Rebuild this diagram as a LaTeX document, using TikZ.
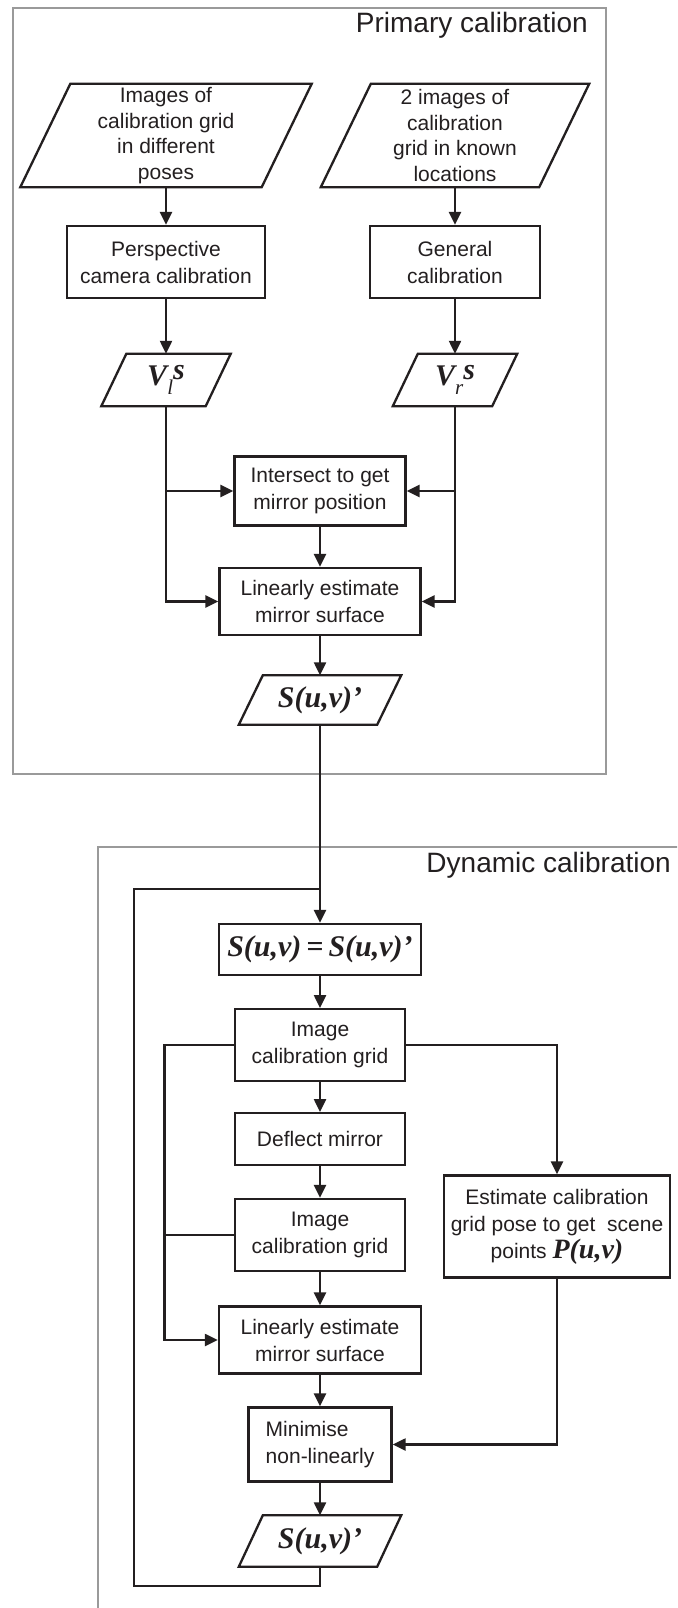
\documentclass[tikz,border=0pt]{standalone}
\usepackage{fontspec}
\setmainfont{Liberation Sans}
\newfontfamily\serifbi{Liberation Serif}
\usetikzlibrary{arrows.meta}
\definecolor{ink}{HTML}{231F20}
\definecolor{framegray}{HTML}{9A9A9A}
% bold italic serif symbols, optional size
\newcommand{\mth}[2][30]{{\serifbi\bfseries\itshape\fontsize{#1}{#1}\selectfont #2}}
% parallelogram drawn around a text node; #2 = half of the slant offset
\newcommand{\parabox}[2]{\draw[flowline] ([xshift=#2]#1.north west) -- ([xshift=#2]#1.north east) -- ([xshift=-#2]#1.south east) -- ([xshift=-#2]#1.south west) -- cycle;}
\begin{document}
\begin{tikzpicture}[x=1pt,y=-1pt,
  flowline/.style={line width=2.3pt, draw=ink},
  arr/.style={flowline, -{Triangle[length=13pt,width=12pt]}},
  txt/.style={font=\fontsize{21}{27}\selectfont, align=center, inner sep=0pt, text=ink},
  boxnode/.style={txt, draw=ink, line width=2.3pt},
  frame/.style={draw=framegray, line width=2pt, inner sep=0pt},
  title/.style={font=\fontsize{28}{34}\selectfont, text=ink, inner sep=0pt}
]
\useasboundingbox (0,0) rectangle (677,1608);
\clip (0,0) rectangle (677,1608);
\fill[white] (0,0) rectangle (677,1608);

% group frames
\node[frame, anchor=north west, minimum width=593pt, minimum height=766pt] (primary) at (11.7,6.7) {};
\node[title, anchor=base east] (primtitle) at (588,33) {Primary calibration};
\node[frame, anchor=north west, minimum width=700pt, minimum height=800pt] (dynamic) at (97.4,845.7) {};
\node[title, anchor=base east] (dyntitle) at (671,872.7) {Dynamic calibration};

% primary calibration
\node[txt, font=\fontsize{21}{25.5}\selectfont, minimum width=241pt, minimum height=103pt] (p1) at (166,135.5) {Images of\\calibration grid\\in different\\poses};
\node[txt, font=\fontsize{21}{25.5}\selectfont, minimum width=218pt, minimum height=103pt] (p2) at (455,135.5) {2 images of\\calibration\\grid in known\\locations};
\parabox{p1}{25pt}
\parabox{p2}{25pt}
\node[boxnode, minimum width=198pt, minimum height=72pt] (persp) at (166,262) {Perspective\\camera calibration};
\node[boxnode, minimum width=170pt, minimum height=72pt] (gen) at (455,262) {General\\calibration};
\node[txt, minimum width=104pt, minimum height=52pt] (vl) at (166,380) {\mth{V}\raisebox{-9pt}{\serifbi\itshape\fontsize{21}{21}\selectfont l}\raisebox{6pt}{\mth{s}}};
\node[txt, minimum width=99pt, minimum height=52pt] (vr) at (455,380) {\mth{V}\raisebox{-9pt}{\serifbi\itshape\fontsize{21}{21}\selectfont r}\raisebox{6pt}{\mth{s}}};
\parabox{vl}{12.5pt}
\parabox{vr}{12.5pt}
\node[boxnode, minimum width=171pt, minimum height=69pt] (inter) at (320,491) {Intersect to get\\mirror position};
\node[boxnode, minimum width=201pt, minimum height=67pt] (lin1) at (320,601.5) {Linearly estimate\\mirror surface};
\node[txt, minimum width=138pt, minimum height=49pt] (s1) at (320,700) {\mth{S(u,v)’}};
\parabox{s1}{12pt}

\draw[arr] (p1) -- (persp);
\draw[arr] (p2) -- (gen);
\draw[arr] (persp) -- (vl);
\draw[arr] (gen) -- (vr);
\draw[arr] (vl.south) |- (lin1.west);
\draw[arr] (vl.south |- inter.west) -- (inter.west);
\draw[arr] (vr.south) |- (lin1.east);
\draw[arr] (vr.south |- inter.east) -- (inter.east);
\draw[arr] (inter) -- (lin1);
\draw[arr] (lin1) -- (s1);

% dynamic calibration
\node[boxnode, minimum width=202pt, minimum height=51pt] (sset) at (320,949.5) {\mth{S(u,v)\,=\,S(u,v)’}};
\node[boxnode, minimum width=170pt, minimum height=72pt] (img1) at (320,1045.2) {Image\\calibration grid};
\node[boxnode, minimum width=170pt, minimum height=52pt] (defl) at (320,1139.2) {Deflect mirror};
\node[boxnode, minimum width=170pt, minimum height=72pt] (img2) at (320,1235) {Image\\calibration grid};
\node[boxnode, minimum width=202pt, minimum height=67pt] (lin2) at (320,1340) {Linearly estimate\\mirror surface};
\node[boxnode, align=left, minimum width=143pt, minimum height=74pt] (mini) at (320,1444.5) {Minimise\\non-linearly};
\node[txt, minimum width=138pt, minimum height=51pt] (s2) at (320,1541) {\mth{S(u,v)’}};
\parabox{s2}{12pt}
\node[boxnode, minimum width=226pt, minimum height=102pt] (est) at (557,1226.5) {Estimate calibration\\grid pose to get\ \ scene\\points \mth[28]{P(u,v)}};

\coordinate (loopT) at (134,889.3);
\coordinate (loopB) at (134,1585.7);
\coordinate (busL) at (164.5,1045.2);

\draw[arr] (s1) -- (sset);
\draw[flowline] (s2.south) |- (loopB) -- (loopT) -- (s1.south |- loopT);
\draw[arr] (sset) -- (img1);
\draw[arr] (img1) -- (defl);
\draw[arr] (defl) -- (img2);
\draw[arr] (img2) -- (lin2);
\draw[arr] (lin2) -- (mini);
\draw[arr] (mini) -- (s2);
\draw[arr] (img1.east) -| (est.north);
\draw[arr] (img1.west) -- (busL) |- (lin2.west);
\draw[flowline] (img2.west) -- (img2.west -| busL);
\draw[arr] (est.south) |- (mini.east);
\end{tikzpicture}
\end{document}
